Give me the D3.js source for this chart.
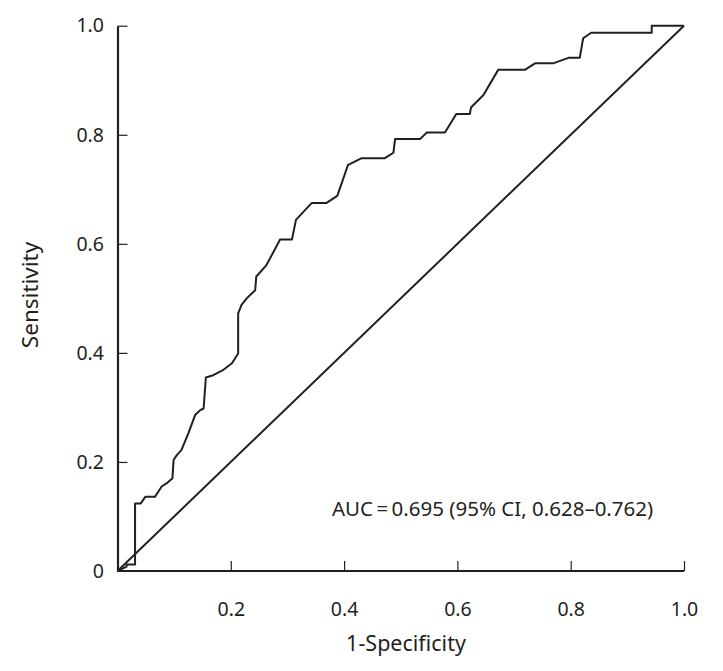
<!DOCTYPE html>
<html>
<head>
<meta charset="utf-8">
<script src="https://cdn.jsdelivr.net/npm/d3@7/dist/d3.min.js"></script>
<style>
  html, body { margin: 0; padding: 0; background: #fff; }
  svg { display: block; }
  text { fill: #231f20; }
</style>
</head>
<body>
<script>
// ROC curve points (1-Specificity, Sensitivity)
const fpr = [0, 0.016, 0.016, 0.031, 0.031, 0.041, 0.049, 0.066, 0.078, 0.087,
  0.097, 0.099, 0.105, 0.113, 0.125, 0.137, 0.146, 0.152, 0.156, 0.169,
  0.187, 0.202, 0.213, 0.213, 0.219, 0.228, 0.243, 0.245, 0.263, 0.287,
  0.308, 0.315, 0.343, 0.369, 0.388, 0.407, 0.410, 0.431, 0.472, 0.487,
  0.490, 0.534, 0.546, 0.578, 0.598, 0.622, 0.624, 0.646, 0.672, 0.719,
  0.737, 0.769, 0.796, 0.816, 0.822, 0.836, 0.943, 0.943, 1.0];
const tpr = [0, 0.008, 0.012, 0.012, 0.124, 0.124, 0.136, 0.136, 0.155, 0.161,
  0.170, 0.2035, 0.213, 0.222, 0.2525, 0.286, 0.295, 0.298, 0.355, 0.359,
  0.369, 0.381, 0.399, 0.4725, 0.488, 0.500, 0.515, 0.540, 0.561, 0.608,
  0.608, 0.644, 0.675, 0.675, 0.688, 0.745, 0.746, 0.757, 0.757, 0.767,
  0.792, 0.792, 0.804, 0.804, 0.838, 0.838, 0.850, 0.873, 0.919, 0.919,
  0.931, 0.931, 0.941, 0.941, 0.977, 0.987, 0.987, 1.0, 1.0];
const diagX = [0, 1];
const diagY = [0, 1];
const xTicks = [0.2, 0.4, 0.6, 0.8, 1.0];
const xTickLabels = ["0.2", "0.4", "0.6", "0.8", "1.0"];
const yTicks = [0, 0.2, 0.4, 0.6, 0.8, 1.0];
const yTickLabels = ["0", "0.2", "0.4", "0.6", "0.8", "1.0"];
const xTitle = "1-Specificity";
const yTitle = "Sensitivity";
const aucText = "AUC\u2009=\u20090.695 (95% CI, 0.628\u20130.762)";

const W = 723, H = 671;
const svg = d3.select("body").append("svg").attr("width", W).attr("height", H);

const x = d3.scaleLinear().domain([0, 1]).range([117.5, 684]);
const y = d3.scaleLinear().domain([0, 1]).range([571, 25.7]);

const ink = "#231f20";
const font = "'Noto Sans', 'DejaVu Sans', sans-serif";

// x axis (ticks pointing up, inside)
const xAxis = d3.axisBottom(x).tickValues(xTicks).tickSizeInner(-10).tickSizeOuter(0)
  .tickFormat((d, i) => xTickLabels[i]).tickPadding(31);
const gx = svg.append("g").attr("transform", `translate(0,${y(0)})`).call(xAxis);
gx.select(".domain").attr("stroke", ink).attr("stroke-width", 2.2)
  .attr("d", `M${x(0)},0H${x(1)}`);
gx.selectAll(".tick line").attr("stroke", ink).attr("stroke-width", 1.2);
gx.selectAll(".tick text").attr("font-family", font).attr("font-size", 19.5).attr("fill", ink);

// y axis (ticks pointing right, inside)
const yAxis = d3.axisLeft(y).tickValues(yTicks).tickSizeInner(-10).tickSizeOuter(0)
  .tickFormat((d, i) => yTickLabels[i]).tickPadding(13.5);
const gy = svg.append("g").attr("transform", `translate(${x(0)},0)`).call(yAxis);
gy.select(".domain").attr("stroke", ink).attr("stroke-width", 2.2);
gy.selectAll(".tick line").attr("stroke", ink).attr("stroke-width", 1.2)
  .attr("display", d => d === 0 ? "none" : null);
gy.selectAll(".tick text").attr("font-family", font).attr("font-size", 19.5).attr("fill", ink);

// diagonal reference line
const line = d3.line().x(d => x(d[0])).y(d => y(d[1]));
svg.append("path")
  .attr("d", line(diagX.map((v, i) => [v, diagY[i]])))
  .attr("fill", "none").attr("stroke", ink).attr("stroke-width", 2);

// ROC curve
svg.append("path")
  .attr("d", line(fpr.map((v, i) => [v, tpr[i]])))
  .attr("fill", "none").attr("stroke", ink).attr("stroke-width", 2)
  .attr("stroke-linejoin", "round");

// titles
svg.append("text").attr("x", 406).attr("y", 651).attr("text-anchor", "middle")
  .attr("font-family", font).attr("font-size", 21.5).attr("fill", ink).text(xTitle);
svg.append("text").attr("transform", "translate(38,295) rotate(-90)").attr("text-anchor", "middle")
  .attr("font-family", font).attr("font-size", 22.5).attr("fill", ink).text(yTitle);

// AUC annotation
svg.append("text").attr("x", 332).attr("y", 516).attr("text-anchor", "start")
  .attr("font-family", font).attr("font-size", 20.5).attr("fill", ink).text(aucText);
</script>
</body>
</html>
